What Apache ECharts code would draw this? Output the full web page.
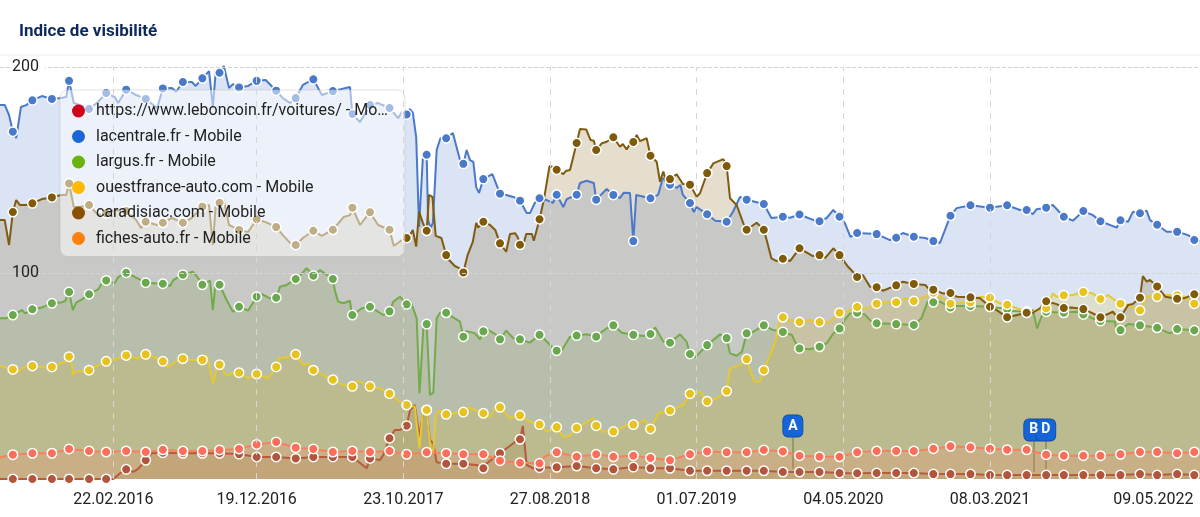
<!DOCTYPE html>
<html><head><meta charset="utf-8">
<style>html,body{margin:0;padding:0;background:#fff}#c{width:1200px;height:517px}</style>
<script src="https://cdn.jsdelivr.net/npm/echarts@6/dist/echarts.min.js"></script>
</head><body><div id="c"></div>
<script>
// days since 29.06.2015
const xTickDays=[238,539,847,1155,1463,1771,2079,2506];
const xTickLabels=['22.02.2016','19.12.2016','23.10.2017','27.08.2018','01.07.2019','04.05.2020','08.03.2021','09.05.2022'];
const names=['https://www.leboncoin.fr/voitures/ - Mobile','lacentrale.fr - Mobile','largus.fr - Mobile','ouestfrance-auto.com - Mobile','caradisiac.com - Mobile','fiches-auto.fr - Mobile'];
const markerDays=[27,68,109,145,187,223,265,306,342,384,425,461,502,539,580,621,658,699,740,777,818,854,896,937,973,1015,1050,1092,1133,1169,1211,1252,1288,1330,1366,1407,1449,1485,1526,1568,1604,1644,1679,1721,1763,1800,1841,1882,1919,1960,1996,2038,2079,2115,2156,2197,2234,2275,2311,2353,2394,2430,2472,2508];

const blueMarks=[168.6,183.8,184.5,193.3,179.6,187.4,189.0,184.5,189.6,192.7,194.5,197.2,190.1,193.3,188.5,184.9,194.0,188.3,177.2,181.5,180.1,177.0,157.4,165.4,153.0,145.6,138.5,135.1,136.3,138.0,138.0,135.6,137.9,115.5,136.3,142.9,134.0,128.5,124.9,135.6,133.5,127.3,128.4,125.1,127.3,119.4,118.9,117.1,117.6,115.5,127.8,132.9,131.7,132.9,130.6,131.7,127.3,130.1,125.1,125.6,129.0,123.4,120.0,116.0];
const blueDetail=[[0,181.5],[10,181.5],[19,176.7],[34,165.5],[44,180.6],[55,181.5],[88,185.9],[128,184.9],[139,185.4],[155,182.5],[168,181.5],[206,183],[241,185.4],[248,182.5],[286,186.4],[330,180.1],[361,189.8],[370,188],[403,192.7],[411,190.8],[439,198],[447,180.6],[453,197.6],[470,200.5],[481,189.8],[489,191.7],[521,190.8],[558,193.7],[594,184.9],[609,182.5],[636,191.3],[676,186.4],[735,190.3],[756,173.3],[794,182.5],[836,175.2],[844,178.1],[861,179.6],[867,177.7],[874,166],[880,122.3],[888,155.8],[891,156.8],[899,125.7],[904,121.8],[909,124.3],[917,159.7],[925,165.5],[951,168],[966,154.8],[980,159.7],[987,154.8],[994,153.9],[1000,141.7],[1006,138.8],[1034,148],[1063,137.9],[1078,136.9],[1106,129.1],[1113,129.1],[1123,134],[1148,135.4],[1161,134],[1183,132],[1190,135.9],[1218,143.7],[1232,144.8],[1247,143.7],[1274,140.8],[1302,136.4],[1310,139],[1323,138.8],[1336,137.9],[1382,137.9],[1392,146.1],[1421,141.3],[1429,142.7],[1434,137.9],[1457,129.6],[1463,132],[1502,125.4],[1539,129.6],[1554,136.9],[1620,126.7],[1659,126.8],[1711,125.4],[1736,126.7],[1750,130.6],[1774,124.3],[1786,117.5],[1869,116],[1896,119.4],[1943,117],[1974,114.6],[2009,131.5],[2142,130.6],[2169,128.6],[2177,131],[2211,133],[2253,125.4],[2295,128.1],[2345,122],[2369,124.9],[2379,129.7],[2408,130.2],[2415,125.7],[2450,120],[2495,118.4],[2520,115.5]];

const brownMarks=[129.6,133.8,136.7,143.5,133,129,130.1,124.9,124.4,124.4,132.2,134.1,120.9,126.1,122.3,113.6,120.5,121,131.7,129.5,121,117,120.5,108.7,100.3,124.9,114.4,113.7,126.1,150.1,163.1,159.7,165.9,163.6,156.9,145.6,142.9,148.5,151.9,121,121,106.9,112,108.7,108.7,98.1,93.1,94,94.7,91.9,90.3,88.2,83.6,78.5,80.7,86.3,83,82.5,78.5,78.5,88,93.5,87.5,89.7];
const brownDetail=[[0,125.7],[10,125.7],[19,113.6],[34,135.4],[42,133],[55,133],[88,135.9],[128,137.9],[139,137.9],[155,132],[168,132],[206,128.1],[241,130.6],[286,125.7],[296,121.8],[330,123.3],[361,126.7],[403,126.7],[439,133],[447,113.6],[453,133],[470,135.4],[481,123.3],[521,119.9],[558,124.7],[594,118.4],[609,114.6],[636,117],[676,118],[722,127.2],[735,128.1],[756,123.3],[794,123.3],[827,113.1],[844,116],[861,118.6],[867,120.9],[874,112.8],[880,129.8],[888,124.3],[901,137.9],[908,137],[915,118],[927,117],[943,106.3],[955,103.4],[964,102.4],[982,108.7],[993,115.2],[1000,124.3],[1004,122],[1029,123.3],[1040,120.9],[1063,110.3],[1071,118.9],[1082,119.3],[1088,117],[1100,114.6],[1105,118.9],[1117,118.9],[1121,115.7],[1142,135.4],[1154,151.9],[1160,151.6],[1183,148],[1188,149.5],[1197,150],[1218,169.9],[1231,169.7],[1240,164.6],[1247,164.2],[1264,163],[1274,163.7],[1302,161.3],[1308,162.6],[1316,160],[1323,162.6],[1337,167],[1344,164],[1358,165.4],[1379,154],[1386,144.3],[1393,149.2],[1400,143.5],[1421,147.9],[1434,143.2],[1463,137],[1470,138.7],[1498,153.2],[1519,155.3],[1533,136.3],[1547,133],[1561,124.1],[1589,124.4],[1610,116],[1620,107.1],[1631,105.8],[1659,105.8],[1707,108.2],[1733,107.3],[1750,112],[1781,103],[1789,101.1],[1812,99],[1827,93.3],[1854,91.4],[1896,95.8],[1943,94.2],[1953,91.7],[1980,90.1],[2009,88.5],[2058,87.7],[2093,82],[2127,79.1],[2169,80.7],[2184,82.9],[2219,84.9],[2250,83.3],[2295,80.4],[2337,81.2],[2345,79.1],[2369,84.5],[2379,84.9],[2400,98.5],[2408,95.8],[2415,96.6],[2447,88.5],[2486,87.7],[2520,89.8]];

const greenMarks=[79.6,82.4,85.3,90.8,89.7,96.4,100.1,95.3,94.8,99.2,94.3,94.3,83.6,88.5,88,97.1,98.7,97.1,79.6,83.6,81.4,84.8,75.2,80.7,69.1,71.7,67.8,67.8,70,62.3,69.6,69.1,74.6,70,70.4,66.2,60.7,65,68.4,70.7,74.6,71.4,63.4,64.2,73,80.7,75.6,75.2,74.8,85.8,83.3,84,83.6,82.5,81.2,81.2,80.7,79.9,76.7,72.3,74.6,73.4,72.8,72.2];
const greenDetail=[[0,78],[13,78],[46,82],[53,80.4],[88,83.3],[130,85.8],[137,86.5],[153,82],[160,85.6],[172,87.2],[206,92.1],[214,95],[241,95.1],[248,98],[280,98.5],[357,93.7],[364,96.6],[405,100.6],[416,97.6],[441,96.3],[447,82],[453,95.8],[476,86.9],[489,81.2],[521,81.7],[549,89.8],[567,87.7],[588,93.3],[602,94.2],[633,99.5],[644,102.4],[672,101.4],[703,91.7],[710,86.1],[721,85.3],[735,86.5],[738,81.2],[760,82.9],[794,81.2],[805,79.6],[826,86.1],[840,88.5],[861,86.9],[871,80.6],[875,78],[881,41.6],[889,73.1],[903,40.8],[910,41.9],[917,78],[924,80.7],[955,78],[966,76.4],[980,71.8],[998,70.7],[1008,67.8],[1026,72.3],[1043,69.9],[1063,72],[1078,68.3],[1113,66.2],[1145,67.5],[1159,64.2],[1180,62.6],[1197,69.1],[1232,70.3],[1264,71.5],[1274,73.1],[1306,71],[1351,69.4],[1376,73.6],[1393,66.6],[1428,70.2],[1442,66.6],[1460,59.1],[1512,70.2],[1533,61],[1547,59.8],[1558,61.8],[1582,71.5],[1624,72.3],[1663,69.9],[1673,65],[1700,63],[1736,65.9],[1750,70.7],[1774,77.2],[1785,80.4],[1816,79.9],[1830,76.4],[1935,78],[1948,86.1],[1974,86.1],[2009,84],[2127,81.5],[2169,82],[2178,73.1],[2187,78.8],[2260,81.2],[2295,78],[2341,76.4],[2345,73.1],[2369,75.2],[2457,70.7],[2520,71.8]];

const yellowMarks=[53.2,54.9,54.4,59.4,52.8,57.1,60,60.5,57.1,58.4,57.8,55.5,51.6,51,54.4,60.5,52.8,48.2,45,45,41.4,35.9,33.5,31.4,32.5,31.9,34.8,30.9,26.4,25.2,24.8,25.9,23,26.4,24.3,33.2,41.4,37.7,42.7,58.2,52.8,78.5,76.2,76.2,80.7,83.5,85.1,85.8,86.4,90.4,85.1,85.8,88,84.6,81.2,82.9,89.2,90.8,87.4,85.1,81.9,88.5,89.2,85.1];
const yellowDetail=[[0,54.9],[35,51.6],[52,54.5],[91,54.2],[136,56.9],[149,57.8],[154,50.5],[157,52.1],[168,52.4],[199,54.5],[238,57.8],[287,58.6],[325,59.1],[353,54.5],[371,57.4],[402,57.8],[434,60.2],[448,46.5],[455,54.5],[476,50],[486,51.3],[521,48.9],[563,48.9],[586,58.6],[602,59.1],[637,55.3],[647,56.2],[721,45.6],[752,47.6],[798,44],[836,38.3],[871,35.1],[881,14.9],[888,33.5],[904,14.9],[910,12.5],[915,31.1],[924,33.5],[983,34.8],[1029,30.2],[1043,35.4],[1071,29.5],[1113,27.8],[1148,23],[1183,20.5],[1197,20.9],[1246,29.5],[1267,23],[1316,26.2],[1355,28.6],[1382,31.9],[1435,35.9],[1470,42.4],[1505,39.2],[1533,53.7],[1554,55.3],[1575,52.9],[1585,47.2],[1596,47.2],[1617,60.2],[1628,66.6],[1638,78],[1659,77.2],[1700,77.2],[1743,76.4],[1778,81.2],[1823,82.9],[1861,86.1],[1903,87.7],[1945,88.8],[1974,88.5],[2022,85.6],[2058,88.5],[2100,85.3],[2169,81.2],[2211,90.1],[2219,88.5],[2253,89.3],[2295,90.1],[2327,89.3],[2345,86.1],[2369,84.5],[2408,88.8],[2450,89.3],[2486,88.5],[2520,84.5]];

const salmonMarks=[11.8,12.5,12.5,14.6,13.6,13.1,13.6,13.1,14.2,13.6,13.6,14.1,14.6,16.8,18,15.2,14.6,13.1,13.6,13.1,13.6,12,13,12.5,12,12,8.9,7.9,7.6,13,10.8,12,10.8,11.3,10.2,9.1,12,13.4,13,13,14.1,13.4,11.3,10.8,10.8,13,13.6,13.6,13.6,14.7,15.9,15.4,14.7,14.2,14.2,11.8,11.3,11.3,11.3,12,13.1,13.1,12.5,13.1];
const salmonDetail=[[0,10.5],[1143,10.8],[1160,12.6],[2520,13]];

const darkMarks=[0,0,0,0,0,0,4.7,9.1,12.8,12.5,12.5,12.5,12.1,10.7,10.7,10,10.7,10.7,10.7,10,19.8,25.9,33.5,7.4,7.4,5.2,12.5,19.3,5.5,5.7,6.3,5.2,4.7,5.8,5.2,5.2,4,4,4,4,4,3.4,3.4,3.4,2.9,2.8,2.9,2.9,2.9,2.4,2.4,2.4,1.9,1.9,1.9,1.9,1.9,1.9,1.9,1.9,2.4,1.9,2.4,1.9];
const darkDetail=[[0,0],[238,0],[252,2.8],[280,3.5],[290,4.9],[318,12.5],[770,5.2],[798,9.2],[805,11.7],[829,23.8],[840,23.8],[861,33.5],[871,35.9],[881,20.5],[888,31.9],[903,18.9],[910,17.3],[917,8.1],[1001,6.8],[1022,7.6],[1040,10.8],[1043,14.1],[1064,14.9],[1082,18.1],[1098,25.7],[1100,25.7],[1106,6.8],[1120,5.2],[2520,2]];

const flagLabels=['A','B','D'];
const flagDays=[1665,2171,2196];
const flagTops=[25.7,23.8,23.8];
const flagFeet=[5,3.4,3.4];

const legendColors=['#d0021b','#1a66d6','#6ab30e','#ffb900','#8a5200','#ff7f0e'];
const lineColors=['#b85a3c','#4a79c9','#73ab4a','#e6c92f','#7f5b10','#f8805f'];
const markColors=['#b2553d','#4a79c9','#6aa84f','#e6c320','#7f5a0b','#fa6e5a'];
const markSet=new Set(markerDays);
function merged(marks,detail){
  return markerDays.map((d,i)=>[d,marks[i]]).concat(detail).sort((a,b)=>a[0]-b[0]);
}
const datasets=[merged(darkMarks,darkDetail),merged(blueMarks,blueDetail),merged(greenMarks,greenDetail),merged(yellowMarks,yellowDetail),merged(brownMarks,brownDetail),merged(salmonMarks,salmonDetail)];

const series=names.map((n,i)=>({
  name:n,type:'line',data:datasets[i],clip:false,showSymbol:true,showAllSymbol:true,
  symbol:v=>markSet.has(v[0])?'circle':'none',symbolSize:9.5,
  lineStyle:{color:lineColors[i],width:2},
  itemStyle:{color:markColors[i],borderColor:'#fff',borderWidth:1.5},
  areaStyle:{color:lineColors[i],opacity:0.2},
  emphasis:{disabled:true},silent:true,
  markLine:i===0?{silent:true,symbol:'none',label:{show:false},animation:false,
    lineStyle:{color:'#d6d6d6',type:[6,6],width:1},
    data:xTickDays.slice(0,7).map(d=>({xAxis:d}))}:undefined
}));
series.push({
  name:'events',type:'scatter',z:8,clip:false,silent:true,
  data:flagDays.map((d,i)=>({value:[d,flagTops[i]],label:{formatter:flagLabels[i]}})),
  symbol:'roundRect',symbolSize:[20,22],
  itemStyle:{color:'#1565d8',opacity:1,borderColor:'#0f4fa8',borderWidth:1},
  label:{show:true,position:'inside',color:'#fff',fontWeight:'bold',fontSize:14,fontFamily:'Roboto'},
  markLine:{silent:true,symbol:'none',label:{show:false},animation:false,z:1,
    lineStyle:{color:'#8a8a8a',type:'solid',width:1.5},
    data:flagDays.map((d,i)=>[{coord:[d,flagFeet[i]]},{coord:[d,flagTops[i]]}])}
});

const chart=echarts.init(document.getElementById('c'),null,{renderer:'canvas'});
chart.setOption({
  animation:false,backgroundColor:'#fff',
  title:{text:'Indice de visibilité',left:14,top:18,textStyle:{fontFamily:'Roboto',fontSize:17,fontWeight:'bold',color:'#0b2a5b'}},
  graphic:[{type:'line',shape:{x1:0,y1:55,x2:1200,y2:55},style:{stroke:'#eeeeee',lineWidth:1},silent:true}],
  legend:{
    orient:'vertical',left:60,top:90,padding:[13,15,10,12],itemGap:9.5,itemWidth:25,itemHeight:13,
    selectedMode:false,backgroundColor:'rgba(255,255,255,0.5)',borderColor:'rgba(170,170,170,0.35)',borderWidth:1,borderRadius:8,
    textStyle:{fontFamily:'Roboto',fontSize:16,color:'#222',lineHeight:16,width:294,overflow:'truncate',ellipsis:'…'},
    data:names.map((n,i)=>({name:n,icon:'circle',itemStyle:{color:legendColors[i],borderWidth:0}}))
  },
  grid:{left:0,right:0,top:67,bottom:38},
  xAxis:{type:'value',min:0,max:2520,axisLine:{show:false},axisTick:{show:false},splitLine:{show:false},
    axisLabel:{customValues:xTickDays,margin:13,color:'#222',fontFamily:'Roboto',fontSize:16,showMinLabel:true,showMaxLabel:true,hideOverlap:false,
      formatter:v=>{const i=xTickDays.indexOf(v);if(i<0)return'';return i===xTickDays.length-1?'{r|'+xTickLabels[i]+'}':xTickLabels[i];},
      rich:{r:{padding:[0,80,0,0],fontFamily:'Roboto',fontSize:16,color:'#222'}}}},
  yAxis:{type:'value',min:0,max:200,interval:100,axisLine:{show:false},axisTick:{show:false},
    splitLine:{show:true,showMinLine:false,lineStyle:{color:'#d4d4d4',type:'dashed'}},
    axisLabel:{inside:true,margin:12,color:'#222',fontFamily:'Roboto',fontSize:16,
      formatter:v=>v===0?'':(v===200?'{w|200}':String(v)),
      rich:{w:{backgroundColor:'#fff',padding:[0,6,0,0],fontFamily:'Roboto',fontSize:16,color:'#222'}}},z:5},
  series
});
</script></body></html>
